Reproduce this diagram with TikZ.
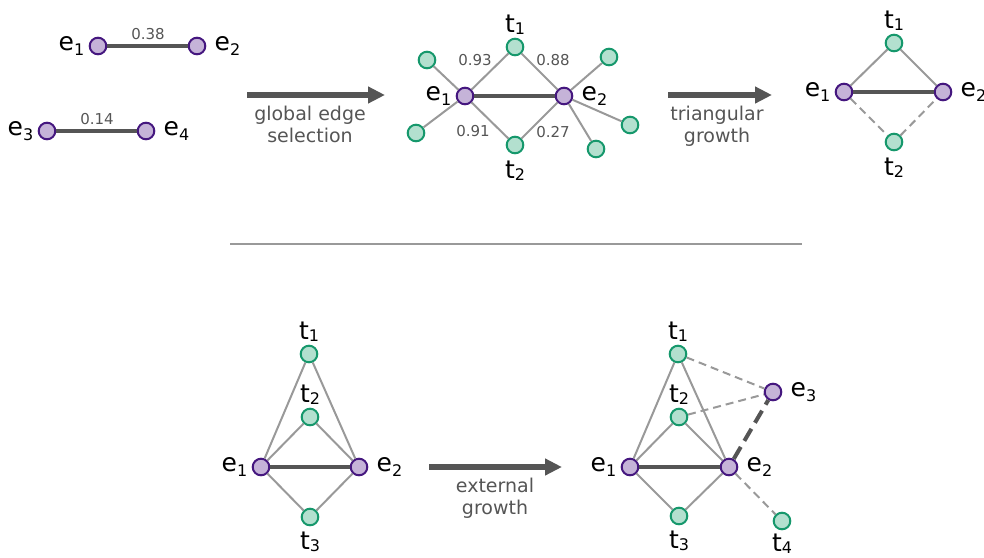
\documentclass[tikz,border=0pt]{standalone}
\usepackage{fontspec}
\setmainfont{DejaVu Sans}
\usetikzlibrary{positioning,arrows.meta,calc}
\definecolor{cpurple}{HTML}{C5B3D8}
\definecolor{cpurpled}{HTML}{45177F}
\definecolor{cgreen}{HTML}{B3E0CF}
\definecolor{cgreend}{HTML}{16986C}
\definecolor{cdark}{HTML}{555555}
\definecolor{clight}{HTML}{999999}

\newcommand{\subfnt}{\fontsize{8}{9}\selectfont}
\newcommand{\esub}[1]{e\raisebox{-2.5pt}{\subfnt #1}}
\newcommand{\tsub}[1]{t\raisebox{-1pt}{\subfnt #1}}

\tikzset{
  ent/.style={circle, fill=cpurple, draw=cpurpled, line width=1pt, minimum size=8.3pt, inner sep=0pt},
  trip/.style={ent, fill=cgreen, draw=cgreend},
  lbl/.style={inner sep=0pt, font=\fontsize{12.5}{15}\selectfont},
  wlbl/.style={inner sep=0pt, text=cdark, font=\fontsize{7.5}{9}\selectfont},
  arrtxt/.style={inner sep=0pt, text=cdark, align=center, font=\fontsize{9.5}{11}\selectfont},
  main/.style={cdark, line width=2pt},
  side/.style={clight, line width=1pt},
  sidedash/.style={side, dash pattern=on 4pt off 2.5pt},
  maindash/.style={main, dash pattern=on 7pt off 3.5pt},
  bigarrow/.style={cdark, line width=3pt, -{Triangle[length=8.5pt,width=8pt]}},
}

\begin{document}
\begin{tikzpicture}[x=.5pt, y=-.5pt]
  \useasboundingbox (0,0) rectangle (984,557);
  % candidate edges
  \node[ent] (a1) at (98,46) {};
  \node[ent] (a2) at (197,46) {};
  \node[ent] (a3) at (47,131) {};
  \node[ent] (a4) at (146,131) {};
  \draw[main] (a1) -- (a2);
  \draw[main] (a3) -- (a4);
  \node[wlbl] (w12) at (148,34) {0.38};
  \node[wlbl] (w34) at (97,119) {0.14};
  \node[lbl, left=2pt of a1] (a1l) {\esub{1}};
  \node[lbl, right=4pt of a2] (a2l) {\esub{2}};
  \node[lbl, left=2pt of a3] (a3l) {\esub{3}};
  \node[lbl, right=4pt of a4] (a4l) {\esub{4}};

  \coordinate (g1s) at (247,95);
  \coordinate (g1e) at (385,95);
  \draw[bigarrow] (g1s) -- (g1e);
  \node[arrtxt, anchor=north] (g1t) at (310,106) {global edge\\selection};

  % selected edge with its neighbourhood
  \node[ent] (b1) at (465,96) {};
  \node[ent] (b2) at (564,96) {};
  \node[trip] (bt1) at (515,47) {};
  \node[trip] (bt2) at (515,145) {};
  \node[trip] (bn1) at (427,60) {};
  \node[trip] (bn2) at (416,133) {};
  \node[trip] (bn3) at (609,57) {};
  \node[trip] (bn4) at (630,125) {};
  \node[trip] (bn5) at (596,149) {};
  \foreach \n in {bt1,bt2,bn1,bn2} \draw[side] (b1) -- (\n);
  \foreach \n in {bt1,bt2,bn3,bn4,bn5} \draw[side] (b2) -- (\n);
  \draw[main] (b1) -- (b2);
  \node[wlbl] (w1) at (475,60) {0.93};
  \node[wlbl] (w2) at (553,60) {0.88};
  \node[wlbl] (w3) at (473,131) {0.91};
  \node[wlbl] (w4) at (553,132) {0.27};
  \node[lbl, left=2pt of b1] (b1l) {\esub{1}};
  \node[lbl, right=4pt of b2] (b2l) {\esub{2}};
  \node[lbl, above=1.5pt of bt1] (bt1l) {\tsub{1}};
  \node[lbl, below=3pt of bt2] (bt2l) {\tsub{2}};

  \coordinate (g2s) at (668,95);
  \coordinate (g2e) at (772,95);
  \draw[bigarrow] (g2s) -- (g2e);
  \node[arrtxt, anchor=north] (g2t) at (717,106) {triangular\\growth};

  % triangles
  \node[ent] (c1) at (844,92) {};
  \node[ent] (c2) at (943,92) {};
  \node[trip] (ct1) at (894,43) {};
  \node[trip] (ct2) at (894,142) {};
  \draw[side] (c1) -- (ct1) -- (c2);
  \draw[sidedash] (c1) -- (ct2) -- (c2);
  \draw[main] (c1) -- (c2);
  \node[lbl, left=2pt of c1] (c1l) {\esub{1}};
  \node[lbl, right=4pt of c2] (c2l) {\esub{2}};
  \node[lbl, above=1.5pt of ct1] (ct1l) {\tsub{1}};
  \node[lbl, below=3pt of ct2] (ct2l) {\tsub{2}};

  \draw[clight, line width=1pt] (230,244) -- (802,244);

  % bottom row
  \node[ent] (d1) at (261,467) {};
  \node[ent] (d2) at (359,467) {};
  \node[trip] (dt1) at (309,354) {};
  \node[trip] (dt2) at (310,417) {};
  \node[trip] (dt3) at (310,517) {};
  \foreach \n in {dt1,dt2,dt3} \draw[side] (d1) -- (\n) -- (d2);
  \draw[main] (d1) -- (d2);
  \node[lbl, left=2pt of d1] (d1l) {\esub{1}};
  \node[lbl, right=4pt of d2] (d2l) {\esub{2}};
  \node[lbl, above=1.5pt of dt1] (dt1l) {\tsub{1}};
  \node[lbl, above=1.5pt of dt2] (dt2l) {\tsub{2}};
  \node[lbl, below=2.5pt of dt3] (dt3l) {\tsub{3}};

  \coordinate (g3s) at (429,467);
  \coordinate (g3e) at (562,467);
  \draw[bigarrow] (g3s) -- (g3e);
  \node[arrtxt, anchor=north] (g3t) at (495,478) {external\\growth};

  \node[ent] (f1) at (630,467) {};
  \node[ent] (f2) at (729,467) {};
  \node[ent] (f3) at (773,392) {};
  \node[trip] (ft1) at (678,354) {};
  \node[trip] (ft2) at (679,417) {};
  \node[trip] (ft3) at (679,516) {};
  \node[trip] (ft4) at (782,521) {};
  \foreach \n in {ft1,ft2,ft3} \draw[side] (f1) -- (\n) -- (f2);
  \draw[sidedash] (ft1) -- (f3);
  \draw[sidedash] (ft2) -- (f3);
  \draw[sidedash] (f2) -- (ft4);
  \draw[maindash] (f2) -- (f3);
  \draw[main] (f1) -- (f2);
  \node[lbl, left=2pt of f1] (f1l) {\esub{1}};
  \node[lbl, right=4pt of f2] (f2l) {\esub{2}};
  \node[lbl, right=4pt of f3] (f3l) {\esub{3}};
  \node[lbl, above=1.5pt of ft1] (ft1l) {\tsub{1}};
  \node[lbl, above=1.5pt of ft2] (ft2l) {\tsub{2}};
  \node[lbl, below=2.5pt of ft3] (ft3l) {\tsub{3}};
  \node[lbl, below=1.5pt of ft4] (ft4l) {\tsub{4}};
\end{tikzpicture}
\end{document}
